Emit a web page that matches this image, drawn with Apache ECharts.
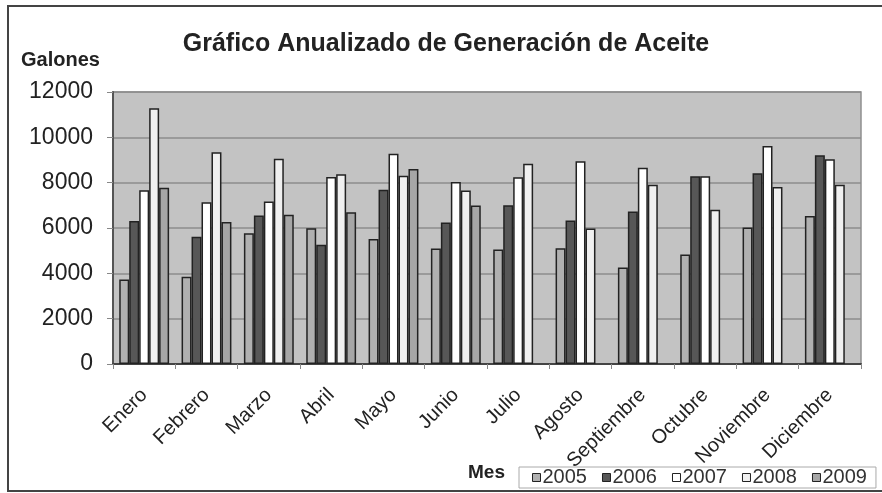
<!DOCTYPE html>
<html>
<head>
    <meta charset="utf-8">
    <title>Gráfico Anualizado de Generación de Aceite</title>
    <script src="https://cdn.jsdelivr.net/npm/echarts@6/dist/echarts.min.js"></script>
    <style>
        html, body { margin: 0; padding: 0; background: #fff; }
        #chart { width: 882px; height: 493px; }
    </style>
</head>
<body>
<div id="chart"></div>
<script>
    // meses
    var months = ['Enero', 'Febrero', 'Marzo', 'Abril', 'Mayo', 'Junio', 'Julio',
        'Agosto', 'Septiembre', 'Octubre', 'Noviembre', 'Diciembre'];
    var years = ['2005', '2006', '2007', '2008', '2009'];

    // galones por año
    var v2005 = [3730, 3850, 5770, 5990, 5520, 5100, 5050, 5110, 4260, 4830, 6020, 6530];
    var v2006 = [6310, 5610, 6550, 5260, 7690, 6240, 7000, 6330, 6730, 8280, 8410, 9210];
    var v2007 = [7670, 7140, 7170, 8250, 9280, 8030, 8240, 8940, 8660, 8280, 9620, 9030];
    var v2008 = [11280, 9340, 9050, 8370, 8310, 7650, 8840, 5980, 7910, 6800, 7810, 7910];
    var v2009 = [7780, 6260, 6590, 6700, 8600, 6990, null, null, null, null, null, null];

    var yTicks = [0, 2000, 4000, 6000, 8000, 10000, 12000];
    var colors = ['#b0b0b0', '#575757', '#ffffff', '#f0f0f0', '#a6a6a6'];

    var chart = echarts.init(document.getElementById('chart'));
    var seriesData = [v2005, v2006, v2007, v2008, v2009];

    var option = {
        animation: false,
        textStyle: { fontFamily: 'Liberation Sans, Arial, sans-serif' },
        title: {
            text: 'Gráfico Anualizado de Generación de Aceite',
            left: 441, top: 27,
            textAlign: 'center',
            textStyle: { fontSize: 25, fontWeight: 'bold', color: '#222' }
        },
        grid: {
            left: 113, right: 21, top: 92, bottom: 129,
            show: true,
            backgroundColor: '#c3c3c3',
            borderColor: '#909090',
            borderWidth: 1.5
        },
        legend: {
            data: years,
            left: 519, top: 467,
            orient: 'horizontal',
            itemWidth: 8, itemHeight: 8,
            itemGap: 15,
            icon: 'rect',
            borderColor: '#aaa',
            borderWidth: 1,
            padding: [0, 9, 0, 13],
            textStyle: { fontSize: 20, color: '#333', padding: [0, 0, 0, -3], lineHeight: 21 },
            itemStyle: { borderColor: '#222', borderWidth: 1 }
        },
        xAxis: {
            type: 'category',
            data: months,
            axisLine: { lineStyle: { color: '#444', width: 2 } },
            axisTick: { show: true, length: 5, lineStyle: { color: '#888' } },
            axisLabel: { rotate: 45, fontSize: 20, color: '#222', margin: 28, interval: 0 }
        },
        yAxis: {
            type: 'value',
            min: 0, max: 12000, interval: 2000,
            name: 'Galones',
            nameLocation: 'end',
            nameGap: 22,
            nameTextStyle: { fontSize: 20, fontWeight: 'bold', color: '#222', align: 'left', padding: [0, 0, 0, -92] },
            axisLine: { show: true, lineStyle: { color: '#555', width: 2 } },
            axisTick: { show: true, length: 6, lineStyle: { color: '#888' } },
            axisLabel: {
                fontSize: 23, color: '#222', margin: 20,
                formatter: function (v) { return yTicks.indexOf(v) >= 0 ? String(v) : ''; }
            },
            splitLine: { lineStyle: { color: '#8c8c8c', width: 1.5 } }
        },
        series: years.map(function (y, i) {
            return {
                name: y,
                type: 'bar',
                data: seriesData[i],
                barGap: '0%',
                barCategoryGap: '20%',
                itemStyle: { color: colors[i], borderColor: '#222', borderWidth: 1.5 }
            };
        }),
        graphic: [
            {
                type: 'rect',
                shape: { x: 8, y: 6, width: 900, height: 485 },
                style: { fill: 'none', stroke: '#444', lineWidth: 2 },
                silent: true
            },
            {
                type: 'text',
                left: 468, top: 463,
                style: { text: 'Mes', fontSize: 19, fontWeight: 'bold', fill: '#222', fontFamily: 'Liberation Sans, Arial, sans-serif' }
            }
        ]
    };

    chart.setOption(option);
</script>
</body>
</html>
